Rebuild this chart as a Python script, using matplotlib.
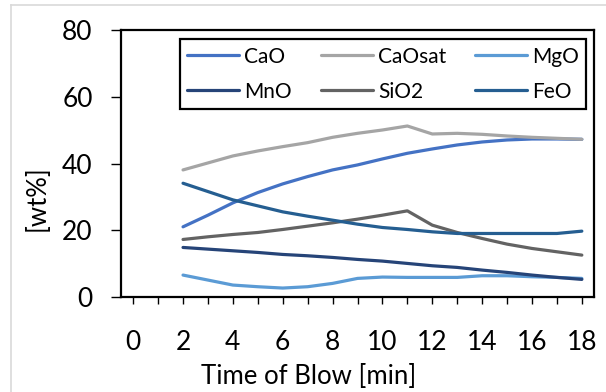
import matplotlib.pyplot as plt
from matplotlib.lines import Line2D

# time of blow [min]
t = [2, 3, 4, 5, 6, 7, 8, 9, 10, 11, 12, 13, 14, 15, 16, 17, 18]

cao = [21.0, 24.5, 28.2, 31.3, 33.9, 36.1, 38.1, 39.6, 41.4, 43.1, 44.4, 45.6, 46.5, 47.1, 47.4, 47.4, 47.3]
caosat = [38.1, 40.2, 42.3, 43.8, 45.1, 46.3, 47.9, 49.1, 50.1, 51.3, 48.9, 49.1, 48.8, 48.3, 47.9, 47.6, 47.3]
mgo = [6.5, 5.0, 3.5, 3.0, 2.6, 3.0, 4.0, 5.5, 5.9, 5.8, 5.8, 5.8, 6.3, 6.3, 6.0, 5.8, 5.5]
mno = [14.8, 14.3, 13.8, 13.3, 12.7, 12.3, 11.8, 11.2, 10.7, 10.0, 9.3, 8.8, 8.0, 7.3, 6.5, 5.8, 5.2]
sio2 = [17.2, 18.0, 18.7, 19.3, 20.2, 21.2, 22.2, 23.3, 24.5, 25.8, 21.5, 19.3, 17.5, 15.8, 14.5, 13.5, 12.5]
feo = [34.1, 31.6, 29.1, 27.3, 25.5, 24.2, 23.0, 21.8, 20.8, 20.2, 19.5, 19.0, 19.0, 19.0, 19.0, 19.0, 19.7]

names = ['CaO', 'CaOsat', 'MgO', 'MnO', 'SiO2', 'FeO']
colors = ['#4472C4', '#A5A5A5', '#5B9BD5', '#264478', '#636363', '#255E91']

xticks = list(range(0, 19))
xticklabels = [str(v) if v % 2 == 0 else '' for v in xticks]
yticks = [0, 20, 40, 60, 80]

plt.rcParams['font.family'] = ['Lato', 'DejaVu Sans']

fig = plt.figure(figsize=(6.06, 3.92), dpi=100)
ax = fig.add_axes([0.1992, 0.2431, 0.7815, 0.6791])

series = [cao, caosat, mgo, mno, sio2, feo]
handles = []
for name, vals, c in zip(names, series, colors):
    h, = ax.plot(t, vals, color=c, lw=2.3, label=name, solid_capstyle='round')
    handles.append(h)

ax.set_xlim(-0.5, 18.5)
ax.set_ylim(0, 80)
ax.set_xticks(xticks)
ax.set_xticklabels(xticklabels)
ax.set_yticks(yticks)
ax.tick_params(axis='x', length=4.7, width=1, pad=19.5, labelsize=19)
ax.tick_params(axis='y', length=7.2, width=1, pad=13, labelsize=19)
for s in ax.spines.values():
    s.set_linewidth(1.6)

ax.set_xlabel('Time of Blow [min]', fontsize=18.5, va='center')
ax.xaxis.set_label_coords(0.397, -0.298)
ax.set_ylabel('[wt%]', fontsize=18.5, va='center')
ax.yaxis.set_label_coords(-0.177, 0.371)

# legend is filled row by row in the reference
order = [0, 3, 1, 4, 2, 5]
leg = ax.legend([handles[i] for i in order], [names[i] for i in order],
                ncol=3, loc='lower left', mode='expand',
                bbox_to_anchor=(0.125, 0.705, 0.8575, 0.263), borderaxespad=0,
                fontsize=15, handlelength=2.5, handletextpad=0.25,
                labelspacing=0.72, fancybox=False, framealpha=1,
                edgecolor='black', borderpad=0.35, columnspacing=0.5)
leg.get_frame().set_linewidth(1.6)

# light chart border (only top/left visible)
fig.add_artist(Line2D([0.018, 0.018], [0, 0.987], color='#D9D9D9', lw=1.2))
fig.add_artist(Line2D([0.018, 1], [0.987, 0.987], color='#D9D9D9', lw=1.2))

fig.savefig('out.png', dpi=100)
